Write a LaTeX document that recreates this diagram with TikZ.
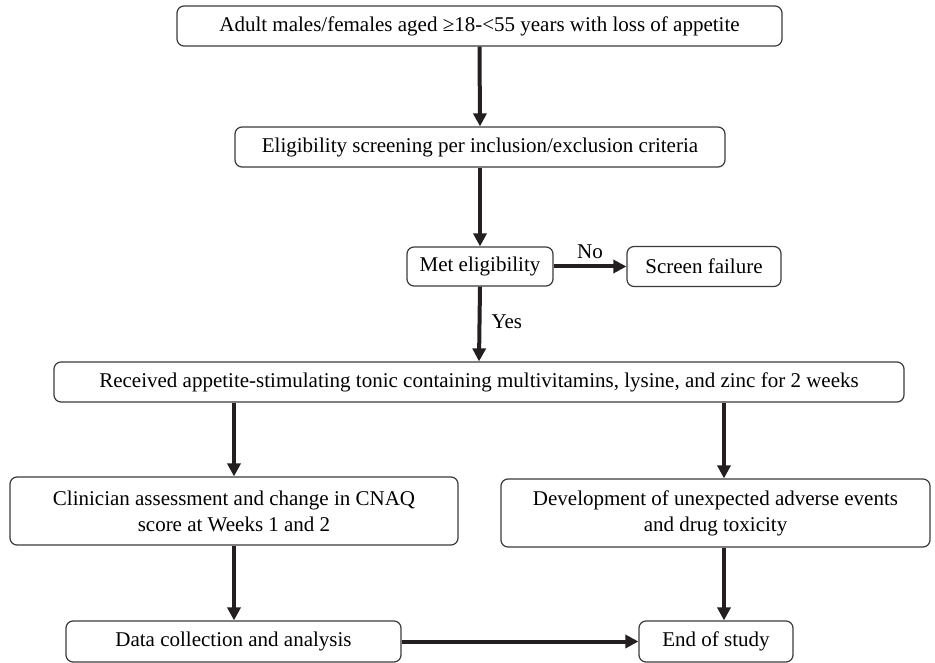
\documentclass[tikz,border=0pt]{standalone}
\usepackage{fontspec}
\setmainfont{Liberation Serif}
\usetikzlibrary{arrows.meta,positioning,calc}
\definecolor{boxgray}{HTML}{3A3A3A}
\definecolor{arrowblack}{HTML}{231F20}

\begin{document}
\begin{tikzpicture}[
            x=1pt, y=-1pt,
            >={Triangle[length=13pt,width=13pt]},
            process/.style={
                draw=boxgray,
                rectangle,
                rounded corners=7pt,
                align=center,
                inner sep=0pt,
                line width=1.2pt,
                font=\fontsize{21}{26}\selectfont
            },
            arrow/.style={
                ->,
                draw=arrowblack,
                line width=4pt
            },
            branchlabel/.style={
                font=\fontsize{21}{25}\selectfont,
                inner sep=1pt
            }
            ]

            \useasboundingbox (0,0) rectangle (935,663);

            \node[process, minimum width=605pt, minimum height=40pt] (adults) at (479.5,26)
            {Adult males/females aged ≥18-<55 years with loss of appetite};

            \node[process, minimum width=490pt, minimum height=40pt] (screening) at (480,147)
            {Eligibility screening per inclusion/exclusion criteria};

            \node[process, minimum width=146pt, minimum height=39pt] (eligible) at (480,266.5)
            {Met eligibility};

            \node[process, minimum width=154pt, minimum height=40pt] (failure) at (704,266.5)
            {Screen failure};

            \node[process, minimum width=850pt, minimum height=40pt] (tonic) at (479,382)
            {Received appetite-stimulating tonic containing multivitamins, lysine, and zinc for 2 weeks};

            \node[process, minimum width=448pt, minimum height=68pt] (clinician) at (234,511)
            {Clinician assessment and change in CNAQ\\
                score at Weeks 1 and 2};

            \node[process, minimum width=429pt, minimum height=68pt] (adverse) at (715.5,513)
            {Development of unexpected adverse events\\
                and drug toxicity};

            \node[process, minimum width=335pt, minimum height=41pt] (analysis) at (233.5,641.5)
            {Data collection and analysis};

            \node[process, minimum width=154pt, minimum height=41pt] (endstudy) at (716,641.5)
            {End of study};

            \coordinate (rightlane) at (724,0);

            \draw[arrow]
            (adults.south) -- (screening.north);

            \draw[arrow]
            (screening.south) -- (eligible.north);

            \draw[arrow]
            (eligible.east) --
            node[branchlabel, above=5pt, midway] {No}
            (failure.west);

            \draw[arrow]
            (eligible.south) --
            node[branchlabel, right=9pt, pos=0.47] {Yes}
            (tonic.north);

            \draw[arrow]
            (clinician.north |- tonic.south) -- (clinician.north);

            \draw[arrow]
            (rightlane |- tonic.south) -- (rightlane |- adverse.north);

            \draw[arrow]
            (clinician.south) -- (clinician.south |- analysis.north);

            \draw[arrow]
            (rightlane |- adverse.south) -- (rightlane |- endstudy.north);

            \draw[arrow]
            (analysis.east) -- (endstudy.west);

        \end{tikzpicture}
\end{document}
